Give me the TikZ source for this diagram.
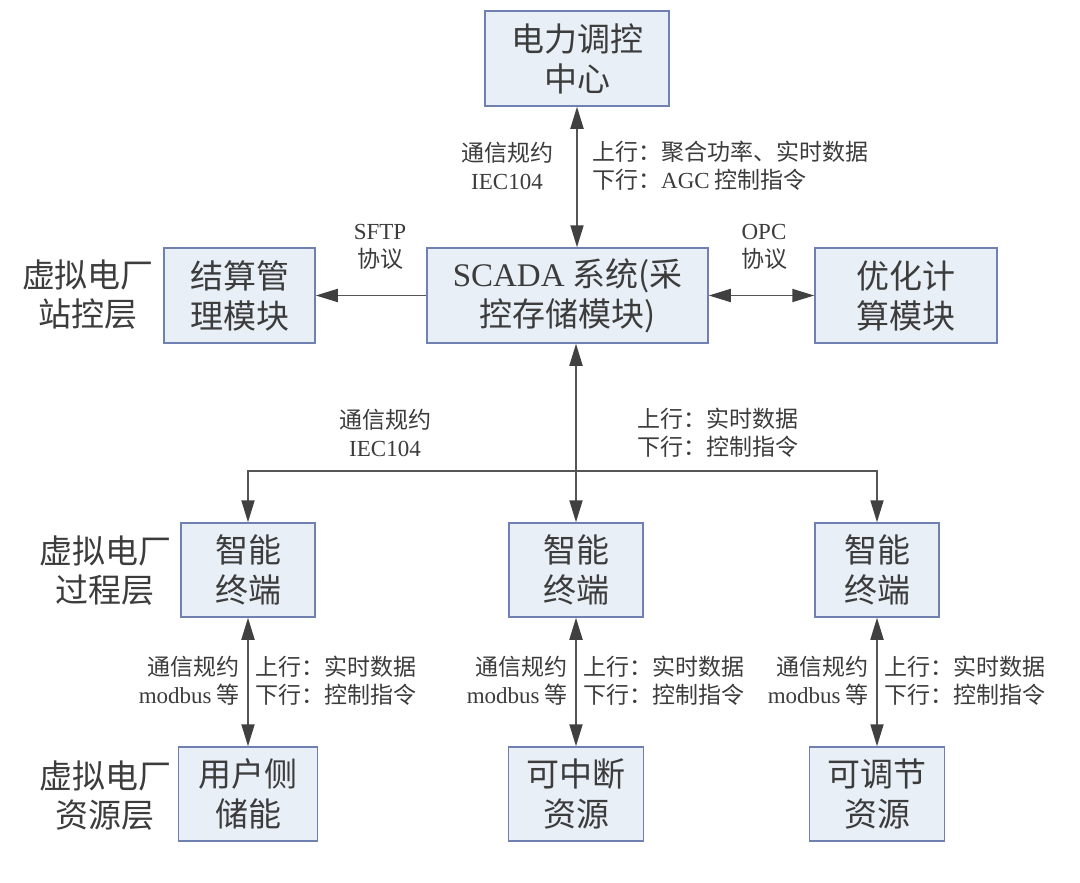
\documentclass[tikz,border=0pt]{standalone}
\usepackage{fontspec}
\setmainfont{Liberation Serif}
\newfontfamily\cjk{Noto Sans CJK SC}
\usetikzlibrary{arrows.meta}
\definecolor{boxfill}{HTML}{E9EFF6}
\definecolor{boxline}{HTML}{7080B0}
\definecolor{txt}{HTML}{3C3C3C}
\definecolor{ln}{HTML}{555555}
\newcommand\latn[1]{{\rmfamily #1}}
\begin{document}
\begin{tikzpicture}[x=1pt,y=-1pt,
  box/.style={draw=boxline, fill=boxfill, line width=1.5pt, minimum width=#1, minimum height=95pt, inner sep=0pt, align=center, text=txt, font=\cjk\fontsize{33}{40}\selectfont},
  lbl/.style={text=txt, font=\cjk\fontsize{23}{28}\selectfont, inner sep=0pt},
  layer/.style={text=txt, font=\cjk\fontsize{33}{39}\selectfont, align=center, inner sep=0pt},
  conn/.style={draw=ln, line width=1.8pt},
  one/.style={-{Triangle[length=22pt,width=13pt,color=black!75]}},
  two/.style={{Triangle[length=22pt,width=13pt,color=black!75]}-{Triangle[length=22pt,width=13pt,color=black!75]}}]
\useasboundingbox (0,0) rectangle (1080,883);
\fill[white] (0,0) rectangle (1080,883);

% boxes
\node[box=184pt] (top) at (577,58.5) {电力调控\\中心};
\node[box=281pt] (scada) at (567.5,295.5) {\latn{SCADA} 系统(采\\控存储模块)};
\node[box=151pt] (js) at (239.5,295.5) {结算管\\理模块};
\node[box=182pt] (yh) at (906,295.5) {优化计\\算模块};

\node[box=134pt, minimum height=94pt] (t1) at (248,570) {智能\\终端};
\node[box=134pt, minimum height=94pt] (t2) at (576,570) {智能\\终端};
\node[box=124pt, minimum height=94pt] (t3) at (877,570) {智能\\终端};

\node[box=139pt, minimum height=94pt] (r1) at (248,794) {用户侧\\储能};
\node[box=135pt, minimum height=94pt] (r2) at (576,794) {可中断\\资源};
\node[box=135pt, minimum height=94pt] (r3) at (877,794) {可调节\\资源};

% layer labels
\node[layer] (l1) at (88,295) {虚拟电厂\\站控层};
\node[layer] (l2) at (105,571) {虚拟电厂\\过程层};
\node[layer] (l3) at (105,796) {虚拟电厂\\资源层};

% connectors
\draw[conn,two] (top.south) -- (top.south |- scada.north);
\draw[conn,one] (scada.west) -- (js.east);
\draw[conn,two] (scada.east) -- (yh.west);
\coordinate (bus) at (576,471);
\draw[conn,two] (t2.north |- scada.south) -- (t2.north);
\draw[conn,one] (bus) -| (t1.north);
\draw[conn,one] (bus) -| (t3.north);
\draw[conn,two] (t1.south) -- (t1.south |- r1.north);
\draw[conn,two] (t2.south) -- (t2.south |- r2.north);
\draw[conn,two] (t3.south) -- (t3.south |- r3.north);

% connector labels
\node[lbl, align=center] (a1) at (507,166) {通信规约\\\latn{IEC104}};
\node[lbl, align=left, anchor=west] (a2) at (592,166) {上行：聚合功率、实时数据\\下行：\latn{AGC} 控制指令};
\node[lbl, align=center] (a3) at (380,247) {\latn{SFTP}\\协议};
\node[lbl, align=center] (a4) at (764,247) {\latn{OPC}\\协议};
\node[lbl, align=center] (a5) at (385,433) {通信规约\\\latn{IEC104}};
\node[lbl, align=left, anchor=west] (a6) at (637,433) {上行：实时数据\\下行：控制指令};

\node[lbl, align=right, anchor=east] (b1) at (240,681) {通信规约\\\latn{modbus} 等};
\node[lbl, align=left, anchor=west] (c1) at (255,681) {上行：实时数据\\下行：控制指令};
\node[lbl, align=right, anchor=east] (b2) at (568,681) {通信规约\\\latn{modbus} 等};
\node[lbl, align=left, anchor=west] (c2) at (583,681) {上行：实时数据\\下行：控制指令};
\node[lbl, align=right, anchor=east] (b3) at (869,681) {通信规约\\\latn{modbus} 等};
\node[lbl, align=left, anchor=west] (c3) at (884,681) {上行：实时数据\\下行：控制指令};
\end{tikzpicture}
\end{document}
